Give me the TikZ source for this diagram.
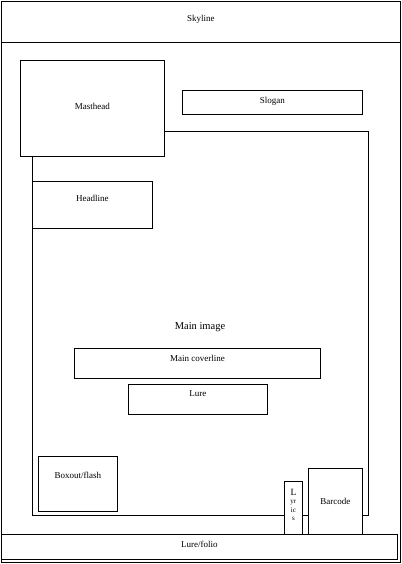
\documentclass[tikz,border=0pt]{standalone}
\usepackage{fontspec}
\setmainfont{Liberation Serif}
\usepackage{tikz}
\usetikzlibrary{positioning,calc}

\begin{document}
\begin{tikzpicture}[x=1pt,y=-1pt, line width=0.8pt,
    every node/.style={font=\fontsize{9}{10}\selectfont},
    box/.style={draw, fill=white, anchor=north west, inner sep=0pt},
    txt/.style={inner sep=0pt}]
  \useasboundingbox (0,0) rectangle (401,564);
  \draw (1,1) rectangle (400,562);
  \node[box, minimum width=399pt, minimum height=41pt] (skyline) at (1,1) {};
  \node[txt] at ([yshift=-18pt]skyline.north) {Skyline};
  \node[box, minimum width=144pt, minimum height=96pt] (masthead) at (20,60) {};
  \node[txt] at ([yshift=2pt]masthead.center) {Masthead};
  \node[box, minimum width=180pt, minimum height=24pt] (slogan) at (182,90) {};
  \node[txt] at ([yshift=-11.5pt]slogan.north) {Slogan};
  % main image frame
  \coordinate (frameNE) at (368,131);
  \coordinate (frameSW) at (32,515);
  \draw (masthead.east |- frameNE) -- (frameNE) -- (frameNE |- frameSW) -- (frameSW) -- (frameSW |- masthead.south);
  \node[txt, font=\fontsize{10.5}{12}\selectfont] (mainimage) at (200,327) {Main image};
  \node[box, minimum width=120pt, minimum height=47pt] (headline) at (32,181) {};
  \node[txt] at ([yshift=-17pt]headline.north) {Headline};
  \node[box, minimum width=246pt, minimum height=30pt] (coverline) at (74,348) {};
  \node[txt] at ([yshift=-10pt]coverline.north) {Main coverline};
  \node[box, minimum width=139pt, minimum height=30pt] (lure) at (128,384) {};
  \node[txt] at ([yshift=-10pt]lure.north) {Lure};
  \node[box, minimum width=79pt, minimum height=55pt] (boxout) at (38,456) {};
  \node[txt] at ([yshift=-19pt]boxout.north) {Boxout/flash};
  \node[box, minimum width=18pt, minimum height=53pt] (lyrics) at (284,481) {};
  \node[txt, align=center, font=\fontsize{7}{8.5}\selectfont] at ([yshift=-24pt]lyrics.north) {{\fontsize{9.5}{9.5}\selectfont L}\\yr\\ic\\s};
  \node[box, minimum width=54pt, minimum height=66pt] (barcode) at (308,468) {Barcode};
  \node[box, minimum width=396pt, minimum height=25pt] (folio) at (1,534) {};
  \node[txt] at ([yshift=-10pt]folio.north) {Lure/folio};
\end{tikzpicture}
\end{document}
